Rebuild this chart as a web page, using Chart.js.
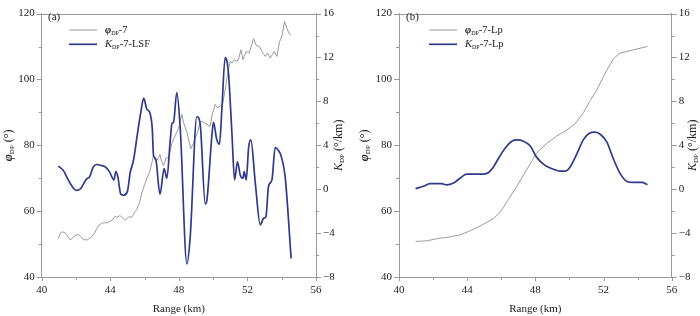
<!DOCTYPE html>
<html>
<head>
<meta charset="utf-8">
<script src="https://cdn.jsdelivr.net/npm/chart.js@4.4.1/dist/chart.umd.min.js"></script>
<style>
  html, body { margin: 0; padding: 0; background: #fff; }
  #wrap { position: relative; width: 700px; height: 316px; }
  #wrap canvas { position: absolute; top: 0; }
</style>
</head>
<body>
<div id="wrap">
  <canvas id="chartA" width="350" height="316" style="left:0"></canvas>
  <canvas id="chartB" width="350" height="316" style="left:350px"></canvas>
</div>
<script>
// Painel (a): phiDP bruto e KDP por LSF
const rangePhiA = [40.97, 41.1, 41.2, 41.36, 41.5, 41.65, 41.8, 41.94, 42.14, 42.3, 42.43, 42.67, 42.92, 43.1, 43.21,
  43.35, 43.5, 43.65, 43.8, 44.0, 44.1, 44.28, 44.4, 44.57, 44.7, 44.86, 45.06, 45.26, 45.4, 45.55, 45.7, 45.84,
  46.0, 46.13, 46.3, 46.42, 46.52, 46.6, 46.71, 46.9, 47.0, 47.1, 47.26, 47.4, 47.59, 47.75, 47.88, 47.98, 48.17,
  48.27, 48.47, 48.6, 48.7, 48.85, 48.95, 49.1, 49.24, 49.44, 49.6, 49.83, 49.93, 50.12, 50.26, 50.41, 50.55, 50.7,
  50.85, 51.0, 51.1, 51.23, 51.39, 51.5, 51.62, 51.74, 51.93, 52.1, 52.36, 52.5, 52.7, 52.85, 53.04, 53.17, 53.33,
  53.56, 53.72, 53.87, 54.0, 54.17, 54.3, 54.45, 54.55];
const phiA = [51.7, 53.4, 53.7, 53.5, 52.5, 51.3, 51.8, 52.5, 53.0, 52.2, 51.3, 51.3, 52.3, 53.5, 54.7,
  55.8, 56.3, 56.5, 56.4, 57.0, 57.2, 58.4, 58.1, 58.7, 58.0, 57.2, 58.2, 58.2, 59.5, 60.6, 62.5, 65.5,
  68.0, 69.9, 72.0, 74.5, 77.0, 75.5, 75.3, 77.2, 75.0, 73.8, 76.2, 76.0, 80.6, 82.5, 84.0, 85.0, 89.4,
  87.0, 84.0, 81.0, 79.0, 80.6, 82.1, 84.0, 87.3, 87.0, 86.5, 85.8, 89.0, 92.4, 91.4, 91.9, 92.5, 96.8,
  102.0, 105.5, 105.0, 106.0, 105.5, 106.5, 109.0, 106.0, 108.5, 108.0, 112.4, 110.4, 110.0, 108.5, 107.0, 108.0, 106.5,
  108.5, 107.0, 111.4, 112.9, 117.6, 115.5, 113.8, 113.6];

const rangeKdpA = [40.97, 41.26, 41.55, 41.8, 42.0, 42.24, 42.6, 42.8, 43.0, 43.2, 43.5, 43.7, 43.95, 44.22, 44.32,
  44.44, 44.61, 44.77, 45.0, 45.16, 45.35, 45.58, 45.78, 45.95, 46.13, 46.3, 46.45, 46.52, 46.65, 46.9, 47.14,
  47.3, 47.5, 47.6, 47.69, 47.88, 48.08, 48.47, 48.66, 49.05, 49.24, 49.54, 49.63, 49.93, 50.02, 50.2, 50.37,
  50.51, 50.7, 50.8, 50.9, 51.1, 51.25, 51.42, 51.58, 51.74, 51.81, 51.93, 52.07, 52.2, 52.46, 52.75, 52.94,
  53.08, 53.23, 53.43, 53.62, 53.82, 53.96, 54.2, 54.55];
const kdpA = [2.1, 1.7, 0.85, 0.2, -0.1, 0.0, 0.9, 1.15, 2.0, 2.25, 2.15, 2.05, 1.6, 0.85, 1.6,
  1.15, -0.45, -0.55, -0.2, 1.5, 2.6, 5.0, 7.0, 8.3, 7.3, 7.0, 5.5, 3.1, 2.76, -0.46, 1.88,
  1.0, 4.5, 6.0, 6.1, 8.8, 5.55, -6.8, -4.4, 6.6, 6.0, -1.35, -1.05, 4.96, 6.1, 4.6, 4.1,
  7.3, 12.0, 11.7, 10.5, 4.96, 0.85, 2.5, 1.3, 1.0, 1.6, 0.85, 3.8, 4.5, 0.56, -3.25, -2.66,
  -2.5, 0.27, 0.85, 3.8, 3.5, 3.05, 1.15, -6.3];

// Painel (b): phiDP e KDP por programacao linear
const rangePhiB = [40.97, 41.63, 42.4, 42.8, 43.58, 44.07, 44.56, 44.95, 45.53, 45.93, 46.32, 46.9, 47.49, 48.08,
  48.67, 49.25, 49.84, 50.33, 50.82, 51.21, 51.6, 52.19, 52.58, 52.97, 53.75, 54.57];
const phiB = [50.8, 51.0, 51.8, 52.0, 52.8, 53.8, 55.0, 56.0, 57.7, 59.6, 62.8, 67.4, 72.6, 77.7,
  80.6, 82.8, 84.6, 86.5, 89.9, 93.5, 96.8, 102.8, 106.3, 108.0, 109.0, 110.0];

const rangeKdpB = [40.97, 41.43, 41.82, 42.5, 42.8, 43.2, 43.58, 43.97, 44.46, 44.95, 45.24, 45.54, 45.93, 46.33,
  46.62, 46.91, 47.3, 47.7, 48.08, 48.57, 49.06, 49.45, 49.74, 50.04, 50.43, 50.82, 51.17, 51.5, 51.84, 52.19,
  52.58, 52.97, 53.37, 53.76, 54.25, 54.58];
const kdpB = [0.05, 0.27, 0.5, 0.5, 0.4, 0.56, 1.0, 1.38, 1.38, 1.38, 1.5, 2.03, 3.05, 3.93,
  4.37, 4.49, 4.37, 3.93, 2.9, 2.17, 1.82, 1.64, 1.64, 2.03, 3.2, 4.52, 5.1, 5.2, 4.96, 4.32,
  2.76, 1.44, 0.71, 0.62, 0.62, 0.41];

// Marcas dos eixos
const rangeTicks = [40, 44, 48, 52, 56];
const phiTicks = [40, 60, 80, 100, 120];
const kdpTicks = [-8, -4, 0, 4, 8, 12, 16];

const SERIF = '"Liberation Serif", "DejaVu Serif", serif';
const AXIS_COLOR = '#9a9a9a';
const TEXT_COLOR = '#222';
const BLUE = '#2e3a8c';
const GRAY = '#9a9a9a';

const zip = (xs, ys) => xs.map((x, i) => ({ x: x, y: ys[i] }));
const midpoints = (arr) => arr.slice(1).map((v, i) => (v + arr[i]) / 2);

// Escreve texto em partes (para os subscritos DP)
function drawParts(ctx, parts, x, y, center) {
  let total = 0;
  parts.forEach(p => { ctx.font = p.f; total += ctx.measureText(p.t).width; });
  let cx = center ? x - total / 2 : x;
  parts.forEach(p => {
    ctx.font = p.f;
    ctx.fillText(p.t, cx, y + (p.dy || 0));
    cx += ctx.measureText(p.t).width;
  });
}

function phiParts(size, rest) {
  return [
    { t: 'φ', f: `italic bold ${size}px ${SERIF}` },
    { t: 'DP', f: `${Math.round(size * 0.55)}px ${SERIF}`, dy: size * 0.28 },
    { t: rest, f: `${size}px ${SERIF}` },
  ];
}
function kdpParts(size, rest) {
  return [
    { t: 'K', f: `italic ${size}px ${SERIF}` },
    { t: 'DP', f: `${Math.round(size * 0.55)}px ${SERIF}`, dy: size * 0.28 },
    { t: rest, f: `${size}px ${SERIF}` },
  ];
}

// Plugin: moldura superior, marcas de escala, titulos dos eixos, legenda e rotulo do painel
const panelDeco = {
  id: 'panelDeco',
  afterDraw(chart, args, opts) {
    const ctx = chart.ctx;
    const area = chart.chartArea;
    const sx = chart.scales.x, sy = chart.scales.y, sy1 = chart.scales.y1;
    ctx.save();
    ctx.strokeStyle = AXIS_COLOR;
    ctx.lineWidth = 1;
    ctx.beginPath();
    // linha superior
    ctx.moveTo(area.left, Math.round(area.top) + 0.5);
    ctx.lineTo(area.right, Math.round(area.top) + 0.5);
    // marcas do eixo x
    rangeTicks.forEach(v => {
      const px = Math.round(sx.getPixelForValue(v)) + 0.5;
      ctx.moveTo(px, area.bottom); ctx.lineTo(px, area.bottom + 4);
    });
    midpoints(rangeTicks).forEach(v => {
      const px = Math.round(sx.getPixelForValue(v)) + 0.5;
      ctx.moveTo(px, area.bottom); ctx.lineTo(px, area.bottom + 3);
    });
    // marcas do eixo esquerdo
    phiTicks.forEach(v => {
      const py = Math.round(sy.getPixelForValue(v)) + 0.5;
      ctx.moveTo(area.left, py); ctx.lineTo(area.left - 5, py);
    });
    midpoints(phiTicks).forEach(v => {
      const py = Math.round(sy.getPixelForValue(v)) + 0.5;
      ctx.moveTo(area.left, py); ctx.lineTo(area.left - 3, py);
    });
    // marcas do eixo direito
    kdpTicks.forEach(v => {
      const py = Math.round(sy1.getPixelForValue(v)) + 0.5;
      ctx.moveTo(area.right, py); ctx.lineTo(area.right + 5, py);
    });
    midpoints(kdpTicks).forEach(v => {
      const py = Math.round(sy1.getPixelForValue(v)) + 0.5;
      ctx.moveTo(area.right, py); ctx.lineTo(area.right + 3, py);
    });
    ctx.stroke();

    ctx.fillStyle = TEXT_COLOR;
    ctx.textBaseline = 'middle';
    ctx.textAlign = 'left';
    const midY = (area.top + area.bottom) / 2;
    // titulo do eixo esquerdo
    ctx.save();
    ctx.translate(opts.leftTitleX, midY);
    ctx.rotate(-Math.PI / 2);
    drawParts(ctx, phiParts(12, ' (°)'), 0, 0, true);
    ctx.restore();
    // titulo do eixo direito
    ctx.save();
    ctx.translate(opts.rightTitleX, midY);
    ctx.rotate(-Math.PI / 2);
    drawParts(ctx, kdpParts(12, ' (°/km)'), 0, 0, true);
    ctx.restore();

    // rotulo do painel
    ctx.font = `11px ${SERIF}`;
    ctx.fillText(opts.tag, opts.tagX, 17);

    // legenda
    opts.legend.forEach((item, i) => {
      const y = 30 + i * 14.3;
      ctx.strokeStyle = item.color;
      ctx.lineWidth = item.width;
      ctx.beginPath();
      ctx.moveTo(opts.legendX, y);
      ctx.lineTo(opts.legendX + 28, y);
      ctx.stroke();
      const parts = item.kind === 'phi' ? phiParts(10.5, item.rest) : kdpParts(10.5, item.rest);
      drawParts(ctx, parts, opts.legendX + 36, y, false);
    });
    ctx.restore();
  }
};

function makeConfig(phiData, kdpData, leftWidth, rightWidth, deco) {
  const tickFont = { family: SERIF, size: 11 };
  return {
    type: 'line',
    data: {
      datasets: [
        {
          label: 'KDP',
          data: kdpData,
          yAxisID: 'y1',
          borderColor: BLUE,
          borderWidth: 1.7,
          pointRadius: 0,
          cubicInterpolationMode: 'monotone',
          order: 0,
        },
        {
          label: 'phiDP',
          data: phiData,
          yAxisID: 'y',
          borderColor: GRAY,
          borderWidth: 1,
          pointRadius: 0,
          tension: 0,
          order: 1,
        },
      ],
    },
    options: {
      responsive: false,
      animation: false,
      layout: { padding: { top: 4, left: 0, right: 0, bottom: 0 } },
      plugins: {
        legend: { display: false },
        tooltip: { enabled: false },
        panelDeco: deco,
      },
      scales: {
        x: {
          type: 'linear',
          min: 40,
          max: 56,
          afterBuildTicks: s => { s.ticks = rangeTicks.map(v => ({ value: v })); },
          afterFit: s => { s.height = 39; },
          grid: { display: false, drawTicks: false },
          border: { color: AXIS_COLOR },
          ticks: { color: TEXT_COLOR, font: tickFont, padding: 7, maxRotation: 0 },
          title: {
            display: true,
            text: 'Range (km)',
            color: TEXT_COLOR,
            font: { family: SERIF, size: 11 },
            padding: { top: 0, bottom: 0 },
          },
        },
        y: {
          position: 'left',
          min: 40,
          max: 120,
          afterBuildTicks: s => { s.ticks = phiTicks.map(v => ({ value: v })); },
          afterFit: s => { s.width = leftWidth; },
          grid: { display: false, drawTicks: false },
          border: { color: AXIS_COLOR },
          ticks: { color: TEXT_COLOR, font: tickFont, padding: 7 },
        },
        y1: {
          position: 'right',
          min: -8,
          max: 16,
          afterBuildTicks: s => { s.ticks = kdpTicks.map(v => ({ value: v })); },
          afterFit: s => { s.width = rightWidth; },
          grid: { display: false, drawTicks: false },
          border: { color: AXIS_COLOR },
          ticks: {
            color: TEXT_COLOR,
            font: tickFont,
            padding: 7,
            callback: v => (v < 0 ? '−' + Math.abs(v) : String(v)),
          },
        },
      },
    },
    plugins: [panelDeco],
  };
}

new Chart(document.getElementById('chartA').getContext('2d'),
  makeConfig(zip(rangePhiA, phiA), zip(rangeKdpA, kdpA), 41.7, 34, {
    tag: '(a)', tagX: 48, legendX: 69, leftTitleX: 9, rightTitleX: 339,
    legend: [
      { kind: 'phi', rest: '-7', color: GRAY, width: 1 },
      { kind: 'kdp', rest: '-7-LSF', color: BLUE, width: 1.7 },
    ],
  }));

new Chart(document.getElementById('chartB').getContext('2d'),
  makeConfig(zip(rangePhiB, phiB), zip(rangeKdpB, kdpB), 49, 28.3, {
    tag: '(b)', tagX: 56, legendX: 79, leftTitleX: 15, rightTitleX: 343,
    legend: [
      { kind: 'phi', rest: '-7-Lp', color: GRAY, width: 1 },
      { kind: 'kdp', rest: '-7-Lp', color: BLUE, width: 1.7 },
    ],
  }));
</script>
</body>
</html>
